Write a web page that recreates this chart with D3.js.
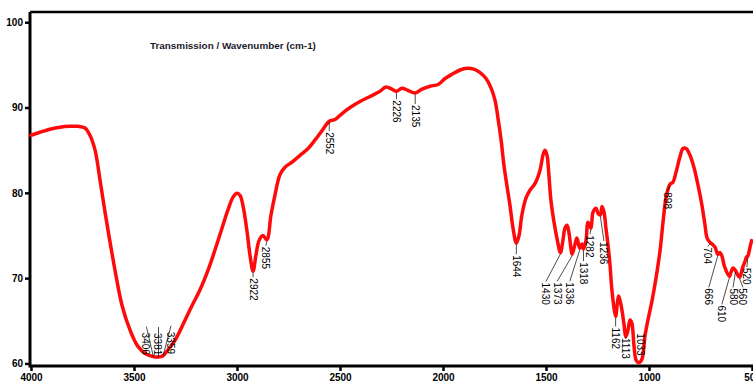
<!DOCTYPE html>
<html>
<head>
<meta charset="utf-8">
<script src="https://cdn.jsdelivr.net/npm/d3@7"></script>
<style>
  html, body { margin: 0; padding: 0; background: #fff; }
  svg { display: block; }
  text { font-family: "Liberation Sans", Arial, sans-serif; }
</style>
</head>
<body>
<svg id="chart" width="753" height="382"></svg>
<script>
// IR spectrum: wavenumber (cm-1) and transmission (%)
const wavenumber = [
  4000, 3956, 3908, 3859, 3811, 3772, 3738, 3714, 3689, 3665,
  3646, 3626, 3592, 3558, 3519, 3481, 3442, 3406, 3381, 3359,
  3335, 3301, 3252, 3218, 3180, 3141, 3107, 3073, 3044, 3019,
  3000, 2985, 2971, 2952, 2937, 2922, 2908, 2893, 2874, 2855,
  2835, 2816, 2792, 2767, 2733, 2694, 2655, 2621, 2587, 2552,
  2524, 2490, 2451, 2403, 2354, 2306, 2277, 2248, 2226, 2199,
  2170, 2135, 2102, 2063, 2024, 1990, 1956, 1917, 1883, 1850,
  1820, 1791, 1767, 1748, 1733, 1718, 1704, 1690, 1675, 1660,
  1644, 1631, 1617, 1597, 1578, 1553, 1529, 1515, 1505, 1495,
  1486, 1476, 1461, 1447, 1430, 1418, 1408, 1398, 1389, 1379,
  1373, 1360, 1350, 1336, 1325, 1318, 1306, 1296, 1282, 1272,
  1257, 1247, 1236, 1228, 1218, 1209, 1199, 1189, 1180, 1162,
  1155, 1148, 1141, 1131, 1121, 1113, 1102, 1092, 1083, 1073,
  1063, 1052, 1044, 1033, 1019, 1005, 985, 966, 946, 932,
  917, 898, 884, 869, 850, 835, 820, 801, 782, 762,
  743, 728, 718, 704, 689, 679, 666, 656, 646, 634,
  610, 602, 592, 580, 572, 560, 546, 535, 526, 520,
  511, 502
];
const transmission = [
  86.75, 87.1, 87.45, 87.7, 87.8, 87.8, 87.6, 86.75, 85.0, 81.5,
  78.55, 75.6, 70.9, 66.8, 63.9, 62.0, 61.1, 60.8, 60.75, 60.9,
  61.6, 62.7, 65.1, 66.8, 68.6, 70.9, 73.3, 75.85, 78.0, 79.5,
  79.95, 79.7, 78.5, 75.6, 72.7, 70.8, 72.7, 74.4, 75.0, 74.5,
  77.4, 79.7, 82.1, 83.0, 83.6, 84.4, 85.2, 86.2, 87.3, 88.4,
  88.6, 89.3, 90.0, 90.7, 91.3, 91.9, 92.4, 92.15, 91.9, 92.25,
  92.0, 91.7, 92.15, 92.5, 92.7, 93.4, 93.9, 94.4, 94.6, 94.5,
  94.1, 93.4, 92.3, 90.9, 88.75, 86.2, 83.2, 80.9, 78.55, 75.85,
  74.1, 75.0, 77.4, 79.4, 80.3, 81.1, 82.65, 84.4, 85.0, 84.4,
  82.1, 79.1, 76.55, 74.7, 73.0, 74.4, 75.85, 76.2, 75.4, 73.5,
  72.8, 73.9, 74.7, 73.5, 74.0, 73.4, 74.4, 76.55, 75.85, 77.7,
  78.2, 77.6, 77.4, 78.4, 77.7, 75.85, 73.9, 71.5, 68.6, 65.5,
  66.8, 67.9, 67.4, 66.2, 64.5, 63.1, 63.9, 65.1, 64.7, 62.1,
  60.4, 60.1, 60.15, 60.6, 63.3, 65.1, 67.4, 70.0, 73.3, 76.55,
  79.5, 81.0, 81.25, 82.4, 84.2, 85.2, 85.2, 84.4, 83.0, 80.9,
  78.55, 76.2, 74.7, 74.2, 73.9, 73.6, 72.8, 73.0, 72.6, 71.4,
  70.2, 70.7, 71.2, 70.9, 70.5, 70.1, 71.2, 71.9, 72.5, 72.6,
  73.5, 74.4
];

// Picked peak positions (cm-1)
const peaks = [3406, 3381, 3359, 2922, 2855, 2552, 2226, 2135, 1644, 1430,
               1373, 1336, 1318, 1282, 1236, 1162, 1113, 1033, 898, 704,
               666, 610, 580, 560, 520];

const xTicks = [4000, 3500, 3000, 2500, 2000, 1500, 1000, 500];
const yTicks = [60, 70, 80, 90, 100];
const titleText = "Transmission / Wavenumber (cm-1)";

// Label placement for each peak: offset of the rotated label from the peak point (px)
const labelOffset = {
  3406: [-8, -24], 3381: [-1.5, -24], 3359: [7, -24],
  2922: [0, 7], 2855: [-1, 7], 2552: [0, 11], 2226: [0, 9], 2135: [0, 12],
  1644: [0, 12], 1430: [-14.5, 30], 1373: [-15, 28], 1336: [-10, 34],
  1318: [0, 13], 1282: [-1, 7], 1236: [3.5, 27], 1162: [0, 11],
  1113: [0, 1], 1033: [-2, -25], 898: [-3, 8], 704: [-2, 5],
  666: [-9, 34], 610: [-7.5, 29], 580: [-2.5, 18], 560: [3.3, 11], 520: [-1, 12]
};

const svg = d3.select("#chart");
const plot = { left: 30, right: 752, top: 12, bottom: 366 };

const x = d3.scaleLinear().domain([4000, 500]).range([31, 752]);
const y = d3.scaleLinear().domain([59.7, 101.2]).range([plot.bottom, plot.top]);

// frame: top line
svg.append("line")
  .attr("x1", plot.left).attr("x2", 753)
  .attr("y1", plot.top).attr("y2", plot.top)
  .attr("stroke", "#000").attr("stroke-width", 2.5);

// axes
const xAxis = d3.axisBottom(x).tickValues(xTicks).tickSize(5).tickPadding(3).tickFormat(d3.format("d"));
const gx = svg.append("g").attr("transform", `translate(0,${plot.bottom})`).call(xAxis);
gx.select(".domain").attr("d", `M${plot.left},0H753`).attr("stroke-width", 3);
gx.selectAll(".tick line").attr("stroke-width", 2.5);
gx.selectAll("text").attr("font-size", 10).attr("font-weight", "bold").attr("fill", "#000")
  .attr("font-family", "'Liberation Sans', Arial, sans-serif");

const yAxis = d3.axisLeft(y).tickValues(yTicks).tickSize(5).tickPadding(2);
const gy = svg.append("g").attr("transform", `translate(${plot.left},0)`).call(yAxis);
gy.select(".domain").attr("d", `M0,${plot.top}V${plot.bottom + 1.5}`).attr("stroke-width", 3);
gy.selectAll(".tick line").attr("stroke-width", 2.5);
gy.selectAll("text").attr("font-size", 10).attr("font-weight", "bold").attr("fill", "#000")
  .attr("font-family", "'Liberation Sans', Arial, sans-serif");

// title
svg.append("text")
  .attr("x", 150).attr("y", 49)
  .attr("font-size", 9.9).attr("font-weight", "bold").attr("fill", "#1a1a2a")
  .text(titleText);

// spectrum
const pts = wavenumber.map((w, i) => [w, transmission[i]]);
const line = d3.line().x(d => x(d[0])).y(d => y(d[1])).curve(d3.curveCatmullRom.alpha(0.5));
svg.append("path")
  .datum(pts)
  .attr("d", line)
  .attr("fill", "none")
  .attr("stroke", "#ff0a0a")
  .attr("stroke-width", 3.5)
  .attr("stroke-linejoin", "round")
  .attr("stroke-linecap", "round");

// peak labels
const gl = svg.append("g");
peaks.forEach(p => {
  const i = wavenumber.indexOf(p);
  const px = x(p), py = y(transmission[i]);
  const [dx, dy] = labelOffset[p];
  const lx = px + dx, ty = py + dy;
  if (dy > 0) {
    gl.append("line")
      .attr("x1", px).attr("y1", py + 1.5)
      .attr("x2", lx).attr("y2", ty - 1)
      .attr("stroke", "#000").attr("stroke-width", 0.7);
  } else if (p !== 1033) {
    gl.append("line")
      .attr("x1", px).attr("y1", py)
      .attr("x2", lx + (Math.abs(dx) > 3 ? 1 : 1.5)).attr("y2", ty - 6)
      .attr("stroke", "#000").attr("stroke-width", 0.7);
  }
  gl.append("text")
    .attr("transform", `translate(${lx},${ty}) rotate(90)`)
    .attr("text-anchor", "start")
    .attr("dominant-baseline", "central")
    .attr("font-size", 10)
    .attr("fill", "#000")
    .text(p);
});
</script>
</body>
</html>
